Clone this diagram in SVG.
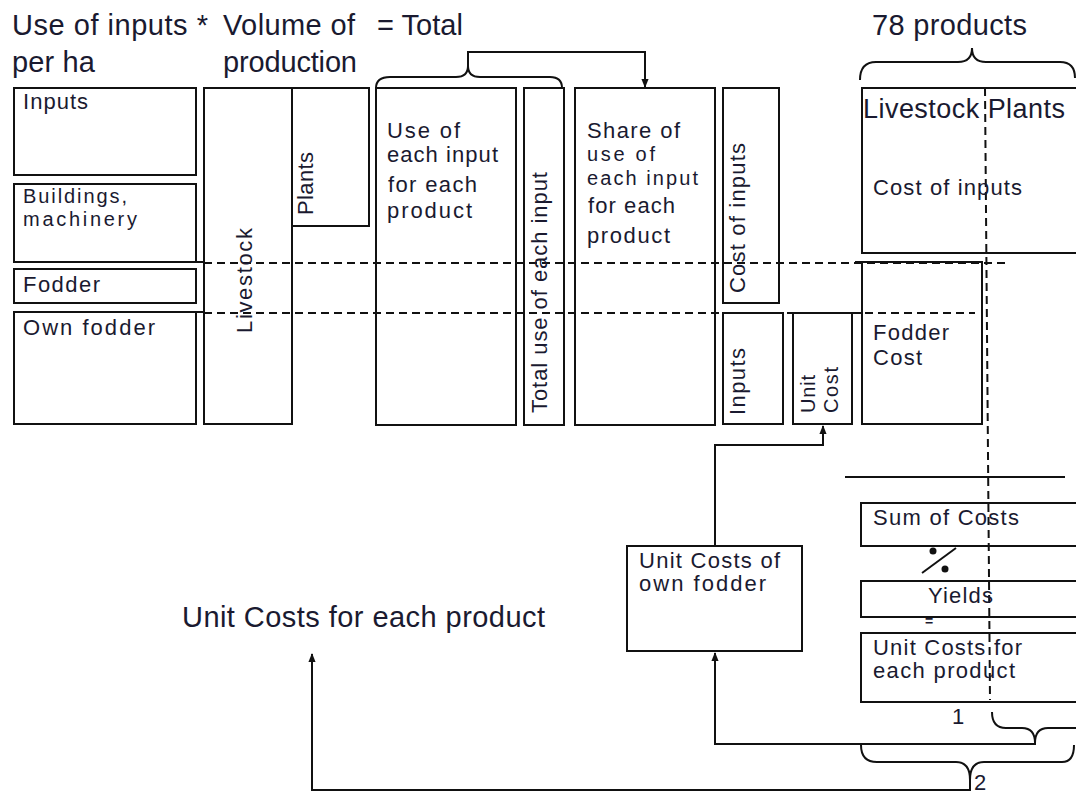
<svg xmlns="http://www.w3.org/2000/svg" width="1076" height="794" viewBox="0 0 1076 794">
<style>
text{font-family:"Liberation Sans",Arial,sans-serif;fill:#1a1a30;}
.t{font-size:29px;}
.l{font-size:22px;}
.s{font-size:20px;}
.b{fill:none;stroke:#111;stroke-width:2;}
.d{fill:none;stroke:#111;stroke-width:2;stroke-dasharray:8 5;}
.c{fill:none;stroke:#111;stroke-width:2;}
</style>
<defs>
<marker id="ah" viewBox="0 0 10 10" refX="9" refY="5" markerWidth="4.5" markerHeight="4.5" orient="auto" markerUnits="strokeWidth">
<path d="M0,1 L10,5 L0,9 z" fill="#111"/>
</marker>
</defs>
<rect width="1076" height="794" fill="#fff"/>

<g id="titles">
<text class="t" x="12" y="35" textLength="196">Use of inputs *</text>
<text class="t" x="12" y="72" textLength="83">per ha</text>
<text class="t" x="223" y="35" textLength="132">Volume of</text>
<text class="t" x="223" y="72" textLength="134">production</text>
<text class="t" x="377" y="35" textLength="86">= Total</text>
<text class="t" x="872" y="35" textLength="155">78 products</text>
<text class="t" x="182" y="627" textLength="363">Unit Costs for each product</text>
</g>

<g id="guides">
<path class="d" d="M204,263 H1007"/>
<path class="d" d="M204,313 H723"/>
<path class="d" d="M865,313 H975"/>
<path class="d" d="M985,88 L990,700" stroke-dasharray="9 5"/>
<path class="b" d="M845,477 H1065"/>
</g>

<g id="n-inputs"><rect class="b" x="14" y="88" width="182" height="87"/><text class="l" x="23" y="109" textLength="65">Inputs</text></g>
<g id="n-buildings"><rect class="b" x="14" y="184" width="182" height="78"/><path class="b" d="M196,262 H204"/><text class="s" x="23" y="203" textLength="104">Buildings,</text><text class="s" x="23" y="226" textLength="114">machinery</text></g>
<g id="n-fodder"><rect class="b" x="14" y="269" width="182" height="34"/><text class="l" x="23" y="292" textLength="77">Fodder</text></g>
<g id="n-ownfodder"><rect class="b" x="14" y="312" width="182" height="112"/><path class="b" d="M196,312 H204"/><text class="l" x="23" y="335" textLength="132">Own fodder</text></g>

<g id="n-livestock"><rect class="b" x="204" y="88" width="88" height="336"/><text class="l" transform="translate(252,333) rotate(-90)" textLength="105">Livestock</text></g>
<g id="n-plants"><rect class="b" x="292" y="88" width="77" height="138"/><text class="l" transform="translate(313,215) rotate(-90)" textLength="63">Plants</text></g>

<g id="n-use"><rect class="b" x="376" y="88" width="140" height="337"/>
<text class="l" x="387" y="138" textLength="73">Use of</text>
<text class="l" x="387" y="162" textLength="111">each input</text>
<text class="l" x="388" y="192" textLength="89">for each</text>
<text class="l" x="387" y="218" textLength="85">product</text></g>
<g id="n-total"><rect class="b" x="524" y="88" width="40" height="337"/><text class="l" transform="translate(547,413) rotate(-90)" textLength="241">Total use of each input</text></g>
<g id="n-share"><rect class="b" x="575" y="88" width="140" height="337"/>
<text class="l" x="587" y="138" textLength="93">Share of</text>
<text class="s" x="587" y="161" textLength="68">use of</text>
<text class="s" x="587" y="185" textLength="111">each input</text>
<text class="l" x="588" y="213" textLength="87">for each</text>
<text class="l" x="587" y="243" textLength="83">product</text></g>

<g id="n-costinputs"><rect class="b" x="723" y="88" width="56" height="215"/><text class="l" transform="translate(745,293) rotate(-90)" textLength="150">Cost of inputs</text></g>
<g id="n-inputs2"><rect class="b" x="723" y="313" width="60" height="111"/><text class="l" transform="translate(745,415) rotate(-90)" textLength="67">Inputs</text></g>
<g id="n-unitcost"><rect class="b" x="793" y="313" width="59" height="111"/><path class="b" d="M787,313 H862"/>
<text class="s" transform="translate(815,413) rotate(-90)" textLength="38">Unit</text>
<text class="s" transform="translate(838,413) rotate(-90)" textLength="46">Cost</text></g>

<g id="n-bigbox"><rect class="b" x="862" y="88" width="230" height="165"/>
<text x="863" y="118" style="font-size:27px" textLength="202">Livestock Plants</text>
<text class="l" x="873" y="195" textLength="149">Cost of inputs</text></g>
<g id="n-foddercost"><rect class="b" x="862" y="262" width="120" height="162"/><path class="b" d="M855,262 H862"/>
<text class="l" x="873" y="340" textLength="76">Fodder</text>
<text class="l" x="873" y="365" textLength="49">Cost</text></g>

<g id="n-ucown"><rect class="b" x="627" y="546" width="175" height="105"/>
<text class="l" x="639" y="568" textLength="141">Unit Costs of</text>
<text class="l" x="639" y="591" textLength="127">own fodder</text></g>
<g id="n-sum"><rect class="b" x="861" y="503" width="230" height="43"/><text class="l" x="873" y="525" textLength="146">Sum of Costs</text></g>
<g id="n-div">
<circle cx="933" cy="551" r="3.5" fill="#111"/><circle cx="945" cy="569" r="3.5" fill="#111"/>
<path class="b" d="M922,573 L956,548" stroke-width="1.5"/></g>
<g id="n-yields"><rect class="b" x="861" y="581" width="230" height="36"/><text class="l" x="928" y="603" textLength="65">Yields</text></g>
<text x="925" y="626" style="font-size:14px;font-weight:bold" textLength="12">=</text>
<g id="n-ucproduct"><rect class="b" x="861" y="633" width="230" height="69"/>
<text class="l" x="873" y="655" textLength="149">Unit Costs for</text>
<text class="l" x="873" y="678" textLength="142">each product</text></g>
<text class="l" x="952" y="724">1</text>
<text class="l" x="974" y="790">2</text>

<g id="braces">
<path class="c" d="M376,88 Q376,77 390,77 L456,77 Q468,77 468,66 Q468,77 480,77 L550,77 Q562,77 562,88"/>
<path class="c" d="M860,80 Q860,62 876,62 L958,62 Q972,62 972,48 Q972,62 986,62 L1060,62 Q1075,62 1075,78"/>
<path class="c" d="M992,712 Q992,728 1006,728 L1022,728 Q1035,728 1035,743 Q1035,728 1048,728 L1080,728"/>
<path class="c" d="M861,745 Q861,762 877,762 L956,762 Q970,762 970,780 Q970,762 984,762 L1062,762 Q1074,762 1074,745"/>
</g>

<g id="connectors">
<path class="c" d="M468,66 V52 H645 V87" marker-end="url(#ah)"/>
<path class="c" d="M715,546 V445 H823 V426" marker-end="url(#ah)"/>
<path class="c" d="M1035,743 V744 H715 V653" marker-end="url(#ah)"/>
<path class="c" d="M970,780 V790 H312 V654" marker-end="url(#ah)"/>
</g>
</svg>
